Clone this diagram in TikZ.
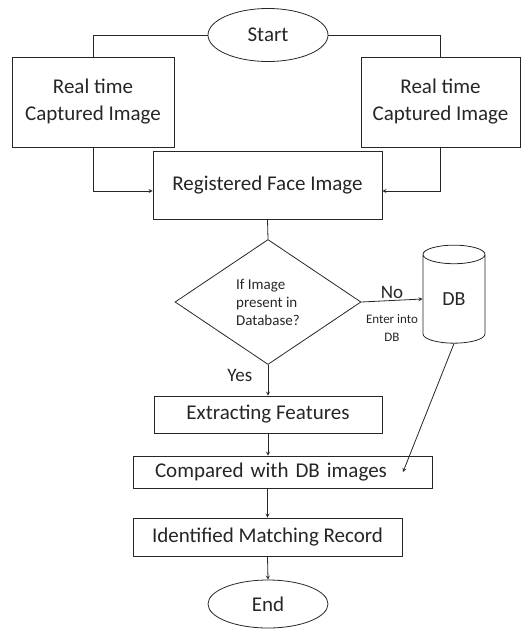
\documentclass[tikz,border=0pt]{standalone}
\usepackage{fontspec}
\setmainfont{Carlito}
\usetikzlibrary{positioning, arrows, shapes.geometric}
\tikzstyle{arrow} = [->,>=stealth]

\begin{document}
\begin{tikzpicture}[x=1pt,y=-1pt]
    \tikzstyle{every node}=[text=black!85, font=\fontsize{21}{27}\selectfont]
    \tikzstyle{block} = [rectangle, draw=black!85, line width=0.8pt, inner sep=0pt]
    \tikzstyle{term} = [ellipse, draw=black!85, line width=0.8pt, inner sep=0pt, minimum width=120pt]
    \tikzstyle{decision} = [diamond, draw=black!85, line width=0.8pt, inner sep=0pt,
        minimum width=186pt, minimum height=125pt, align=left, font=\fontsize{15}{18}\selectfont]
    \tikzstyle{store} = [cylinder, shape border rotate=90, draw=black!85, line width=0.8pt,
        aspect=0.8, minimum width=62pt, minimum height=98pt, inner sep=0pt, font=\fontsize{20}{22}\selectfont]
    \tikzstyle{link} = [draw=black!85, line width=0.8pt]
    \tikzstyle{small} = [font=\fontsize{13}{18}\selectfont, align=center]

    \useasboundingbox (0,0) rectangle (521,630);

    \node[term, minimum height=53pt](start) at (268,35) {Start};
    \node[block, minimum width=162pt, minimum height=90pt, align=center](capl) at (93,102) {Real time\\Captured Image};
    \node[block, minimum width=159pt, minimum height=90pt, align=center](capr) at (440.5,102) {Real time\\Captured Image};
    \node[block, minimum width=229pt, minimum height=68pt](reg) at (267.5,185) {Registered Face Image};
    \node[decision](check) at (268,302) {If Image\\present in\\Database?};
    \node[store](db) at (454,299) {DB};
    \node[block, minimum width=228pt, minimum height=37pt](feat) at (268,414.5) {Extracting Features};
    % text sits left of the box centre
    \node[block, minimum height=32pt, inner xsep=22pt, text width=255pt, align=left](cmp) at (282.5,472) {Compared with DB images};
    \node[block, minimum width=269pt, minimum height=38pt](match) at (267.5,537) {Identified Matching Record};
    \node[term, minimum height=48pt](end) at (268,604) {End};

    \coordinate (dbin) at (403,472);

    \draw[link] (start.west) -| (capl.north);
    \draw[link] (start.east) -| (capr.north);
    \draw[link, arrow] (capl.south) |- ([yshift=-6pt]reg.west);
    \draw[link, arrow] (capr.south) |- ([yshift=-6pt]reg.east);
    \draw[link] (reg.south) -- (check.north);
    \draw[link, arrow] (check.east) -- (db.west)
        node[midway, above, yshift=-2pt, font=\fontsize{19}{22}\selectfont]{No}
        node[midway, below, yshift=-10pt, small]{Enter into\\DB};
    \draw[link, arrow] (check.south) -- (feat.north)
        node[pos=0.35, left, xshift=-12pt, font=\fontsize{19}{22}\selectfont]{Yes};
    \draw[link, arrow] (db.south) -- (dbin);
    \draw[link, arrow] (feat.south) -- (feat.south |- cmp.north);
    \draw[link, arrow] (match.north |- cmp.south) -- (match.north);
    \draw[link, arrow] (match.south) -- (end.north);
\end{tikzpicture}
\end{document}
